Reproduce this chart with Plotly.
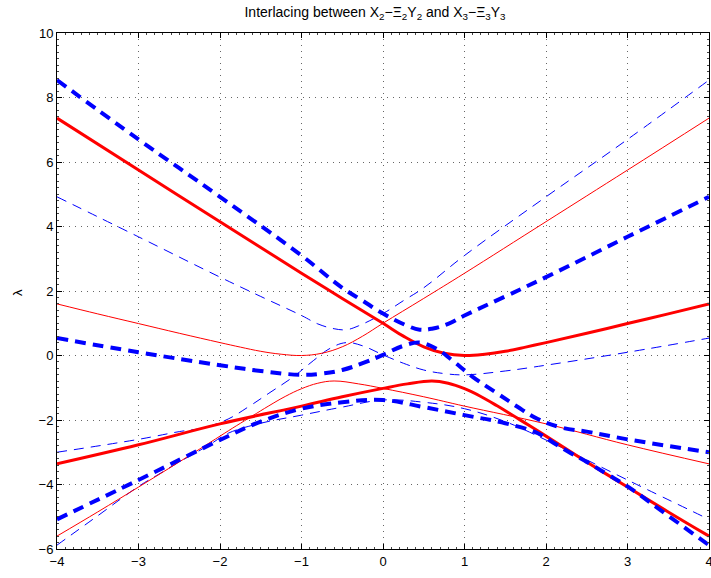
import plotly.graph_objects as go

# ---- data (xi, lambda) ----
# red thick, upper branch (X2 - Xi2 Y2)
xi_r_up = [-4, -3, -2, -1, -0.5, 0, 0.25, 0.5, 0.75, 1, 1.25, 1.5, 1.75, 2, 2.5, 3, 3.5, 4]
lam_r_up = [7.36, 5.75, 4.15, 2.55, 1.77, 1.0, 0.6, 0.27, 0.07, 0.0, 0.04, 0.13, 0.26, 0.4, 0.69, 0.99, 1.29, 1.6]
# red thick, lower branch
xi_r_lo = [-4, -3, -2, -1, -0.5, 0, 0.3, 0.6, 0.8, 1.0, 1.2, 1.4, 1.6, 1.8, 2.0, 2.5, 3, 3.5, 4]
lam_r_lo = [-3.36, -2.77, -2.12, -1.57, -1.28, -1.02, -0.88, -0.79, -0.86, -1.03, -1.27, -1.56, -1.87, -2.18, -2.5, -3.3, -4.08, -4.85, -5.6]
# red thin, upper branch
xi_rt_up = [-4, -3.5, -3, -2.5, -2, -1.75, -1.5, -1.25, -1, -0.75, -0.5, -0.25, 0, 0.5, 1, 2, 3, 4]
lam_rt_up = [1.6, 1.29, 0.99, 0.69, 0.4, 0.26, 0.13, 0.04, 0.0, 0.07, 0.27, 0.6, 1.0, 1.77, 2.55, 4.15, 5.75, 7.36]
# red thin, lower branch
xi_rt_lo = [-4, -3.5, -3, -2.5, -2.0, -1.8, -1.6, -1.4, -1.2, -1.0, -0.8, -0.6, -0.3, 0, 0.5, 1, 2, 3, 4]
lam_rt_lo = [-5.6, -4.85, -4.08, -3.3, -2.5, -2.18, -1.87, -1.56, -1.27, -1.03, -0.86, -0.79, -0.88, -1.02, -1.28, -1.57, -2.12, -2.77, -3.36]

# blue thick dashed (X3 - Xi3 Y3): top, middle, bottom
xi_b1 = [-4, -3, -2, -1, -0.5, -0.25, 0, 0.3, 0.45, 0.6, 0.8, 1, 1.5, 2, 3, 4]
lam_b1 = [8.54, 6.7, 4.92, 3.1, 2.1, 1.7, 1.3, 0.92, 0.8, 0.83, 0.98, 1.24, 1.83, 2.43, 3.68, 4.92]
xi_b2 = [-4, -3, -2, -1.5, -1, -0.75, -0.5, -0.25, 0, 0.25, 0.45, 0.65, 0.85, 1.1, 1.4, 1.65, 1.9, 2.2, 2.5, 3, 4]
lam_b2 = [0.54, 0.1, -0.3, -0.48, -0.6, -0.56, -0.45, -0.24, 0.02, 0.3, 0.4, 0.22, -0.15, -0.66, -1.17, -1.59, -1.97, -2.24, -2.36, -2.6, -3.0]
xi_b3 = [-4, -3, -2, -1.5, -1, -0.5, 0, 0.5, 1, 1.5, 1.9, 2.1, 2.3, 2.5, 2.75, 3, 3.5, 4]
lam_b3 = [-5.08, -3.86, -2.62, -2.05, -1.65, -1.45, -1.38, -1.6, -1.85, -2.1, -2.41, -2.72, -3.02, -3.3, -3.68, -4.06, -4.97, -5.88]

# blue thin dashed: top, middle, bottom
xi_bt1 = [-4, -3, -2, -1.5, -1, -0.8, -0.6, -0.45, -0.3, 0, 0.25, 0.5, 1, 2, 3, 4]
lam_bt1 = [4.92, 3.68, 2.43, 1.83, 1.24, 0.98, 0.83, 0.8, 0.92, 1.3, 1.7, 2.1, 3.1, 4.92, 6.7, 8.54]
xi_bt2 = [-4, -3, -2.5, -2.2, -1.9, -1.65, -1.4, -1.1, -0.85, -0.65, -0.45, -0.25, 0, 0.25, 0.5, 0.75, 1, 1.5, 2, 3, 4]
lam_bt2 = [-3.0, -2.6, -2.36, -2.24, -1.97, -1.59, -1.17, -0.66, -0.15, 0.22, 0.4, 0.3, 0.02, -0.24, -0.45, -0.56, -0.6, -0.48, -0.3, 0.1, 0.54]
xi_bt3 = [-4, -3.5, -3, -2.75, -2.5, -2.3, -2.1, -1.9, -1.5, -1, -0.5, 0, 0.5, 1, 1.5, 2, 3, 4]
lam_bt3 = [-5.88, -4.97, -4.06, -3.68, -3.3, -3.02, -2.72, -2.41, -2.1, -1.85, -1.6, -1.38, -1.45, -1.65, -2.05, -2.62, -3.86, -5.08]

x_ticks = [-4, -3, -2, -1, 0, 1, 2, 3, 4]
x_labels = ["−4", "−3", "−2", "−1", "0", "1", "2", "3", "4"]
y_ticks = [-6, -4, -2, 0, 2, 4, 6, 8, 10]
y_labels = ["−6", "−4", "−2", "0", "2", "4", "6", "8", "10"]

RED = "rgb(255,0,0)"
BLUE = "rgb(0,0,255)"
FONT = "Liberation Sans, Arial, sans-serif"

fig = go.Figure()

def add(xs, ys, color, width, dash):
    fig.add_trace(go.Scatter(x=xs, y=ys, mode="lines",
                             line=dict(color=color, width=width, dash=dash, shape="spline", smoothing=1.1),
                             showlegend=False, hoverinfo="skip"))

add(xi_bt1, lam_bt1, BLUE, 1, "10px,7px")
add(xi_bt2, lam_bt2, BLUE, 1, "10px,7px")
add(xi_bt3, lam_bt3, BLUE, 1, "10px,7px")
add(xi_rt_up, lam_rt_up, RED, 1, "solid")
add(xi_rt_lo, lam_rt_lo, RED, 1, "solid")
add(xi_r_up, lam_r_up, RED, 3, "solid")
add(xi_r_lo, lam_r_lo, RED, 3, "solid")
add(xi_b1, lam_b1, BLUE, 4, "11px,7px")
add(xi_b2, lam_b2, BLUE, 4, "11px,7px")
add(xi_b3, lam_b3, BLUE, 4, "11px,7px")

axis_common = dict(
    showline=True, linecolor="black", linewidth=1, mirror="ticks",
    ticks="inside", ticklen=5, tickcolor="black",
    showgrid=True, gridcolor="#666666", griddash="1px,5px", gridwidth=1,
    zeroline=False, automargin=False, ticklabeloverflow="allow",
    tickfont=dict(family=FONT, size=13, color="black"),
)

fig.update_layout(
    width=711, height=578,
    margin=dict(l=57, r=2, t=33, b=29, autoexpand=False),
    paper_bgcolor="white", plot_bgcolor="white",
    title=dict(text="Interlacing between X<sub>2</sub>−Ξ<sub>2</sub>Y<sub>2</sub> and X<sub>3</sub>−Ξ<sub>3</sub>Y<sub>3</sub>",
               x=375 / 711, xanchor="center", y=1 - 12 / 578, yanchor="middle",
               font=dict(family=FONT, size=14, color="black")),
    xaxis=dict(range=[-4, 4], tickvals=x_ticks, ticktext=x_labels,
               minor=dict(ticks="inside", ticklen=2, dtick=0.1, tickcolor="#444", showgrid=False),
               **axis_common),
    yaxis=dict(range=[-6, 10], tickvals=y_ticks, ticktext=y_labels,
               minor=dict(ticks="inside", ticklen=2, dtick=0.2, tickcolor="#444", showgrid=False),
               **axis_common),
    annotations=[
        dict(text="λ", xref="paper", yref="paper", x=(17 - 57) / 652, y=(549 - 293) / 516,
             xanchor="center", yanchor="middle", textangle=-90, showarrow=False,
             font=dict(family=FONT, size=13, color="black")),
        dict(text="ξ", xref="paper", yref="paper", x=0.5, y=(549 - 575) / 516,
             xanchor="center", yanchor="top", showarrow=False,
             font=dict(family=FONT, size=13, color="black")),
    ],
)

fig.write_html("out.html", config={"displayModeBar": False},
               post_script="document.body.style.margin='0';document.body.style.overflow='hidden';")
